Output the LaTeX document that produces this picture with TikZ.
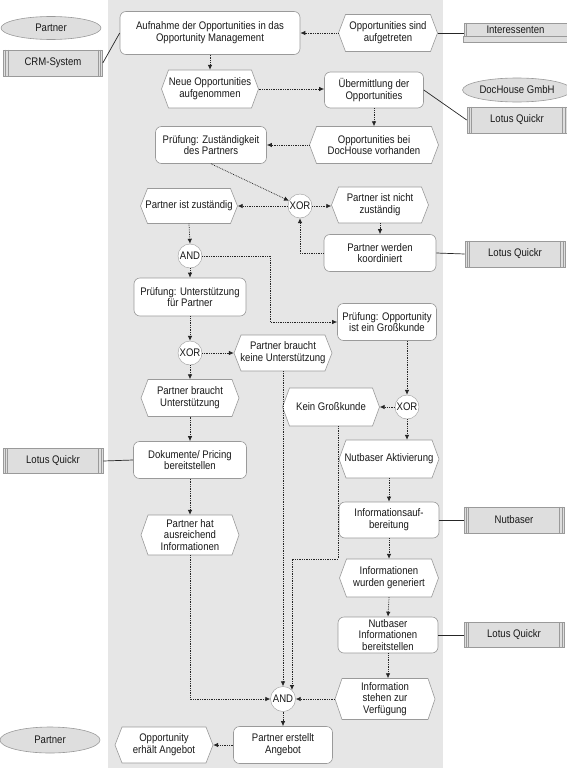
\documentclass[tikz,border=0pt]{standalone}
\usepackage{fontspec}
\setmainfont{Liberation Sans}[FakeStretch=0.87]
\usetikzlibrary{arrows.meta,shapes.geometric}
\definecolor{lanec}{HTML}{E6E6E6}
\definecolor{sysc}{HTML}{DEDEDE}
\definecolor{bordc}{HTML}{9A9A9A}
\definecolor{flowc}{HTML}{252525}
\tikzset{
 base/.style={font=\fontsize{11}{11.8}\selectfont, align=center, inner sep=1pt, text=black!90},
 func/.style={base, draw=bordc, fill=white, rounded corners=6pt, line width=0.6pt},
 evtline/.style={draw=bordc, fill=white, line width=0.6pt},
 sys/.style={base, draw=bordc, fill=sysc, line width=0.6pt},
 org/.style={base, ellipse, draw=bordc, fill=sysc, line width=0.6pt},
 conn/.style={base, circle, draw=bordc, fill=white, inner sep=0pt, minimum size=24pt},
 flow/.style={densely dotted, line width=0.75pt, draw=flowc, -{Latex[length=5pt,width=4.5pt]}},
 assoc/.style={draw=black!85, line width=0.7pt},
}
\newcommand\evt[6]{%
 \draw[evtline] ({#2-#4/2},#3) -- ({#2-#4/2+7},{#3-#5/2}) -- ({#2+#4/2-7},{#3-#5/2}) -- ({#2+#4/2},#3) -- ({#2+#4/2-7},{#3+#5/2}) -- ({#2-#4/2+7},{#3+#5/2}) -- cycle;
 \node[base, minimum width=#4pt, minimum height=#5pt] (#1) at (#2,#3) {#6};}
\newcommand\func[6]{%
 \node[func, minimum width=#4pt, minimum height=#5pt] (#1) at (#2,#3) {#6};}
\newcommand\sysbox[6]{%
 \node[sys, minimum width=#4pt, minimum height=#5pt] (#1) at (#2,#3) {#6};
 \draw[bordc, line width=0.5pt] ([xshift=2.5pt]#1.north west) -- ([xshift=2.5pt]#1.south west)
   ([xshift=5pt]#1.north west) -- ([xshift=5pt]#1.south west)
   ([xshift=-2.5pt]#1.north east) -- ([xshift=-2.5pt]#1.south east)
   ([xshift=-5pt]#1.north east) -- ([xshift=-5pt]#1.south east);}
\begin{document}
\begin{tikzpicture}[x=1pt,y=-1pt]
\useasboundingbox (0,0) rectangle (567,768);
\fill[lanec] (108,0) rectangle (443,768);
% org units
\node[org, minimum width=100pt, minimum height=23pt] (org1) at (51,28) {Partner};
\node[org, minimum width=100pt, minimum height=24pt] (org2) at (517,90) {DocHouse GmbH};
\node[org, minimum width=100pt, minimum height=26pt] (org3) at (50,740) {Partner};
% systems
\sysbox{crm}{53}{63}{99}{26}{CRM-System}
\sysbox{lq1}{517}{120}{100}{26}{Lotus Quickr}
\sysbox{lq2}{515}{254}{100}{26}{Lotus Quickr}
\sysbox{lq3}{53}{461}{100}{25}{Lotus Quickr}
\sysbox{nb}{514}{520}{100}{26}{Nutbaser}
\sysbox{lq4}{514}{635}{100}{25}{Lotus Quickr}
\node[sys, minimum width=103pt, minimum height=13pt] (inter) at (515.5,29.5) {Interessenten};
\draw[bordc, fill=sysc, line width=0.6pt] (inter.south west) rectangle ([yshift=-6pt]inter.south east);
\draw[bordc, line width=0.5pt] ([xshift=3pt]inter.north west) -- ([xshift=3pt]inter.south west);
% functions
\func{f1}{210}{33}{180}{43}{Aufnahme der Opportunities in das\\Opportunity Management}
\func{f2}{374}{90}{99}{36}{Übermittlung der\\Opportunities}
\func{f3}{211}{145}{111}{37}{Prüfung: Zuständigkeit\\des Partners}
\func{f4}{380}{253}{112}{37}{Partner werden\\koordiniert}
\func{f5}{190}{297}{112}{38}{Prüfung: Unterstützung\\für Partner}
\func{f6}{387}{322}{99}{37}{Prüfung: Opportunity\\ist ein Großkunde}
\func{f7}{190}{460}{113}{37}{Dokumente/ Pricing\\bereitstellen}
\func{f8}{389}{520}{100}{36}{Informationsauf-\\bereitung}
\func{f9}{388}{635}{100}{36}{Nutbaser\\Informationen\\bereitstellen}
\func{f10}{283}{745}{99}{37}{Partner erstellt\\Angebot}
% events
\evt{e1}{388}{33}{99}{37}{Opportunities sind\\aufgetreten}
\evt{e2}{210}{89}{97}{38}{Neue Opportunities\\aufgenommen}
\evt{e3}{374}{145}{129}{37}{Opportunities bei\\DocHouse vorhanden}
\evt{e4}{189}{206}{97}{35}{Partner ist zuständig}
\evt{e5}{380}{205}{97}{36}{Partner ist nicht\\zuständig}
\evt{e6}{283}{353}{98}{36}{Partner braucht\\keine Unterstützung}
\evt{e7}{190}{398}{98}{37}{Partner braucht\\Unterstützung}
\evt{e8}{190}{535}{98}{40}{Partner hat\\ausreichend\\Informationen}
\evt{e9}{331}{407}{97}{38}{Kein Großkunde}
\evt{e10}{389}{459}{100}{38}{Nutbaser Aktivierung}
\evt{e11}{389}{578}{99}{38}{Informationen\\wurden generiert}
\evt{e12}{385}{699}{100}{41}{Information\\stehen zur\\Verfügung}
\evt{e13}{164}{745}{98}{36}{Opportunity\\erhält Angebot}
% connectors
\node[conn] (x1) at (300,206) {XOR};
\node[conn] (a1) at (190,256) {AND};
\node[conn] (x2) at (190,353) {XOR};
\node[conn] (x3) at (407,407) {XOR};
\node[conn, minimum size=25pt] (a2) at (283,699) {AND};
\coordinate (k1) at (270,322);
\coordinate (k2) at (338,559);
% flows
\draw[flow] (e1.west) -- (f1.east |- e1.west);
\draw[flow] (f1.south) -- (e2.north);
\draw[flow] (e2.east) -- (f2.west |- e2.east);
\draw[flow] (f2.south) -- (e3.north);
\draw[flow] (e3.west) -- (f3.east);
\draw[flow] (f3.south) -- (x1);
\draw[flow] (x1.west) -- (e4.east);
\draw[flow] (x1.east) -- (e5.west |- x1.east);
\draw[flow] (e5.south) -- (f4.north);
\draw[flow] (f4.west) -| (x1.south);
\draw[flow] (e4.south) -- (a1.north);
\draw[flow] (a1.south) -- (f5.north);
\draw[flow] (a1.east) -| (k1) -- (f6.west);
\draw[flow] (f5.south) -- (x2.north);
\draw[flow] (x2.east) -- (e6.west);
\draw[flow] (x2.south) -- (e7.north);
\draw[flow] (e7.south) -- (f7.north);
\draw[flow] (f7.south) -- (e8.north);
\draw[flow] (e8.south) |- (a2.west);
\draw[flow] (e6.south) -- (a2.north);
\draw[flow] (e9.south -| k2) |- (k2) -| (a2.north east);
\draw[flow] (f6.south -| x3.north) -- (x3.north);
\draw[flow] (x3.west) -- (e9.east);
\draw[flow] (x3.south) -- (x3.south |- e10.north);
\draw[flow] (e10.south) -- (f8.north);
\draw[flow] (f8.south) -- (e11.north);
\draw[flow] (e11.south) -- (f9.north);
\draw[flow] (f9.south) -- (f9.south |- e12.north);
\draw[flow] (e12.west) -- (a2.east);
\draw[flow] (a2.south) -- (f10.north);
\draw[flow] (f10.west) -- (e13.east);
% associations
\draw[assoc] (crm.east) -- (f1.west);
\draw[assoc] (e1.east) -- (e1.east -| inter.west);
\draw[assoc] (f2.east) -- (lq1.west);
\draw[assoc] (f4.east) -- (lq2.west);
\draw[assoc] (lq3.east) -- (f7.west);
\draw[assoc] (f8.east) -- (nb.west);
\draw[assoc] (f9.east) -- (lq4.west);
\end{tikzpicture}
\end{document}
